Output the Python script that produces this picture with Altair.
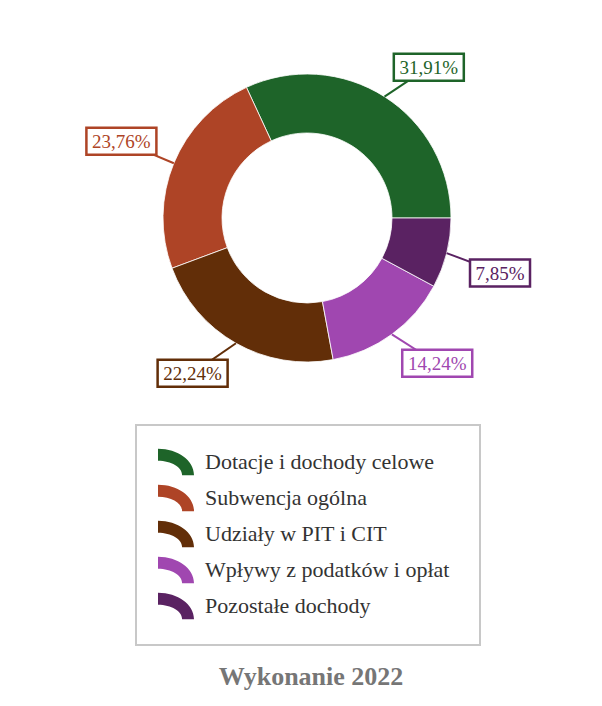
import altair as alt
import pandas as pd

categories = [
    "Dotacje i dochody celowe",
    "Subwencja ogólna",
    "Udziały w PIT i CIT",
    "Wpływy z podatków i opłat",
    "Pozostałe dochody",
]
values = [31.91, 23.76, 22.24, 14.24, 7.85]
colors = ["#1e6429", "#ae4426", "#622e08", "#a047b0", "#5a2262"]
title_text = "Wykonanie 2022"

df = pd.DataFrame({"cat": categories, "value": values, "idx": list(range(len(categories)))})

W, H = 586, 690
CX, CY = 299, 210
R_OUT, R_IN = 144, 85
SERIF = "Liberation Serif"

arc_symbol = ("M-1,-0.73 C0.105,-0.73 1,-0.076 1,0.73 L0.34,0.73 "
              "C0.34,0.288 -0.26,-0.07 -1,-0.07 Z")

color = alt.Color(
    "cat:N",
    scale=alt.Scale(domain=categories, range=colors),
    legend=alt.Legend(
        title=None,
        orient="none",
        legendX=129,
        legendY=415,
        symbolType=arc_symbol,
        symbolSize=1296,
        symbolStrokeWidth=0,
        symbolOpacity=1,
        labelFont=SERIF,
        labelFontSize=22,
        labelColor="#333333",
        labelOffset=11,
        labelLimit=400,
        rowPadding=4,
        padding=21,
    ),
)
color_nolegend = alt.Color("cat:N", scale=alt.Scale(domain=categories, range=colors), legend=None)

base = alt.Chart(df)

legend_box = alt.Chart(pd.DataFrame({"k": [0]})).mark_rect(
    fill="#ffffff", stroke="#c8c8c8", strokeWidth=2
).encode(
    x=alt.value(128), x2=alt.value(472), y=alt.value(417), y2=alt.value(637)
)

donut = base.mark_arc(stroke="#ffffff", strokeWidth=0.8).encode(
    theta=alt.Theta("value:Q", stack=True,
                    scale=alt.Scale(range=[3.14159265 / 2, 3.14159265 * 2.5])),
    order=alt.Order("idx:Q", sort="descending"),
    color=color,
    radius=alt.value(R_OUT),
    radius2=alt.value(R_IN),
    x=alt.value(CX),
    y=alt.value(CY),
)

xs = alt.Scale(domain=[-CX, W - CX], range=[0, W], nice=False, zero=False)
ys = alt.Scale(domain=[CY - H, CY], range=[H, 0], nice=False, zero=False)

lab = base.transform_joinaggregate(total="sum(value)").transform_window(
    cum="sum(value)", sort=[alt.SortField("idx", order="descending")], frame=[None, 0]
).transform_calculate(
    a="PI/2 + 2*PI*(datum.cum - datum.value/2)/datum.total"
).transform_calculate(
    dx="sin(datum.a)", dy="cos(datum.a)"
).transform_calculate(
    ex=f"{R_OUT}*datum.dx", ey=f"{R_OUT}*datum.dy",
    lx="165*datum.dx + 33*(datum.dx < 0 ? -1 : 1)",
    ly="160*datum.dy + 16*(datum.dy < 0 ? -1 : 1)",
    txt="replace(format(datum.value, '.2f'), '.', ',') + '%'",
).transform_calculate(
    w="10*length(datum.txt) + 10"
).transform_calculate(
    x1="datum.lx - datum.w/2", x2="datum.lx + datum.w/2",
    y1="datum.ly - 13.5", y2="datum.ly + 13.5",
)

connectors = lab.mark_rule(strokeWidth=2).encode(
    x=alt.X("ex:Q", scale=xs, axis=None),
    y=alt.Y("ey:Q", scale=ys, axis=None),
    x2="lx:Q",
    y2="ly:Q",
    color=color_nolegend,
)

boxes = lab.mark_rect(fill="#ffffff", strokeWidth=2.5).encode(
    x=alt.X("x1:Q", scale=xs, axis=None),
    x2="x2:Q",
    y=alt.Y("y1:Q", scale=ys, axis=None),
    y2="y2:Q",
    stroke=alt.Stroke("cat:N", scale=alt.Scale(domain=categories, range=colors), legend=None),
)

texts = lab.mark_text(font=SERIF, fontSize=19, align="center", baseline="middle", dy=1).encode(
    x=alt.X("lx:Q", scale=xs, axis=None),
    y=alt.Y("ly:Q", scale=ys, axis=None),
    text="txt:N",
    color=color_nolegend,
)

title = alt.Chart(pd.DataFrame({"t": [title_text]})).mark_text(
    font=SERIF, fontSize=26, fontWeight="bold", color="#767676",
    align="center", baseline="alphabetic",
).encode(
    x=alt.value(303),
    y=alt.value(677),
    text="t:N",
)

chart = alt.layer(legend_box, donut, connectors, boxes, texts, title).properties(
    width=W, height=H,
    autosize=alt.AutoSizeParams(type="none"),
    padding=0,
    background="#ffffff",
).configure_view(stroke=None)

chart.save("out.html", embed_options={"renderer": "svg", "actions": False})
